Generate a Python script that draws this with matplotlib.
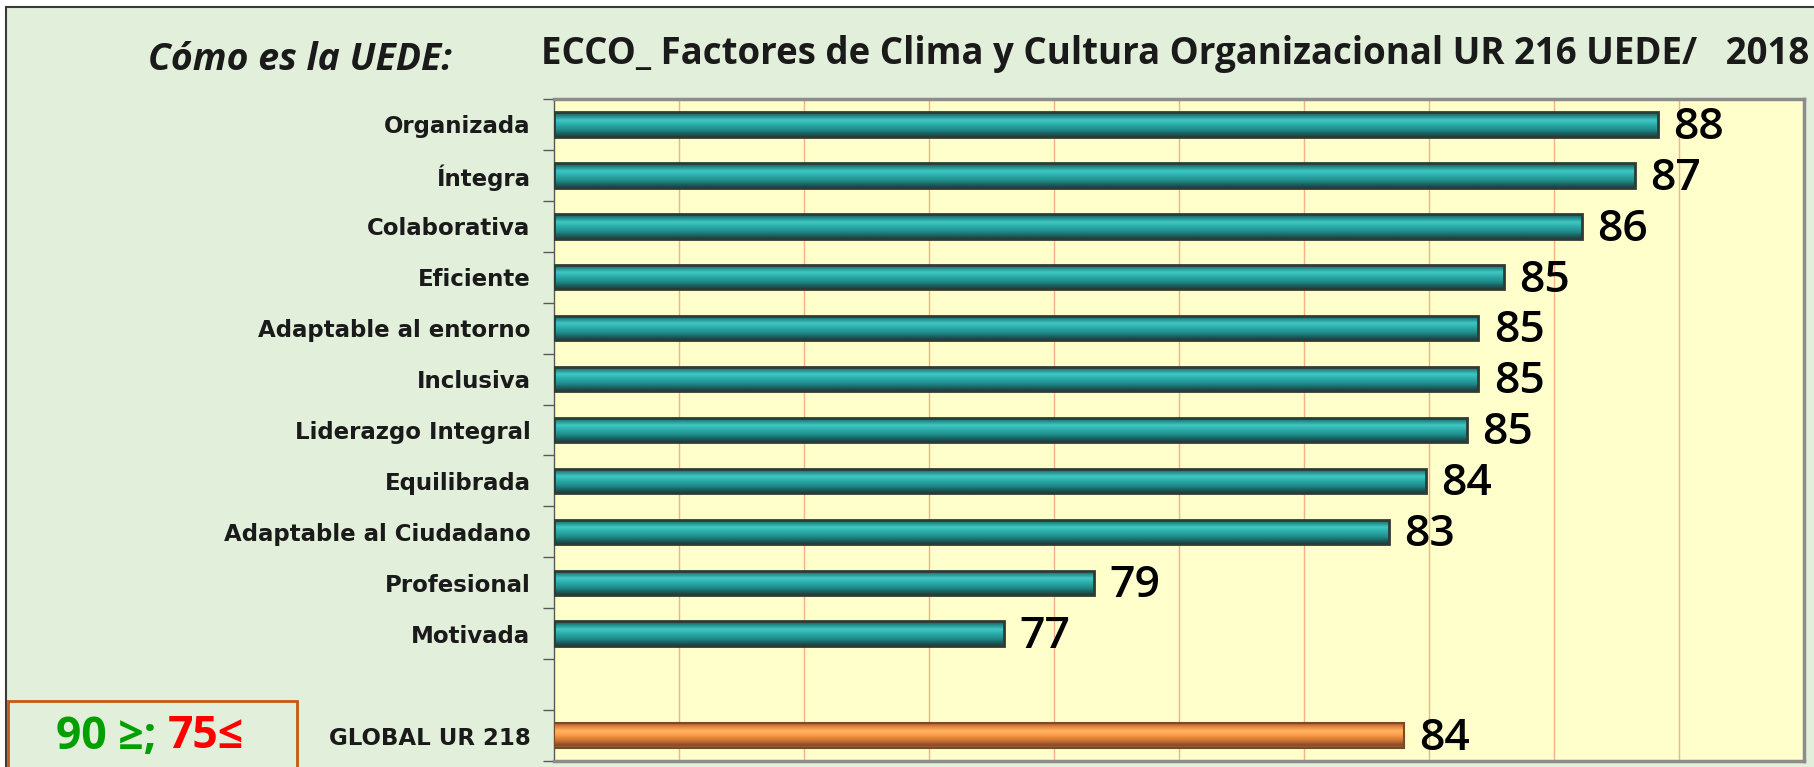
import numpy as np
import matplotlib
matplotlib.use("Agg")
import matplotlib.pyplot as plt
from matplotlib.colors import LinearSegmentedColormap
from matplotlib.patches import Rectangle
from matplotlib.lines import Line2D

# ---------------- data ----------------
categories = ["Organizada", "Íntegra", "Colaborativa", "Eficiente",
              "Adaptable al entorno", "Inclusiva", "Liderazgo Integral",
              "Equilibrada", "Adaptable al Ciudadano", "Profesional", "Motivada"]
values = [87.66, 87.30, 86.45, 85.20, 84.79, 84.79, 84.61, 83.95, 83.36, 78.64, 77.20]
global_label = "GLOBAL UR 218"
global_value = 83.60

title = "ECCO_ Factores de Clima y Cultura Organizacional UR 216 UEDE/   2018"
subtitle = "Cómo es la UEDE:"
legend_green = "90 ≥; "
legend_red = "75≤"

FONT = ["Open Sans", "DejaVu Sans"]
plt.rcParams["font.family"] = FONT

W, H = 1814, 767
XMIN, XMAX = 70, 90
fig = plt.figure(figsize=(W / 100, H / 100), dpi=100, facecolor="white")

# background panel with dark top/left border
fig.add_artist(Rectangle((6 / W, 0), 1 - 6 / W, 1 - 7 / H, transform=fig.transFigure,
                         facecolor="#E2EFDA", edgecolor="none", zorder=0))
fig.add_artist(Line2D([6 / W, 1], [1 - 7 / H, 1 - 7 / H], transform=fig.transFigure,
                      color="#3a3a3a", lw=1.5, zorder=1))
fig.add_artist(Line2D([6 / W, 6 / W], [0, 1 - 7 / H], transform=fig.transFigure,
                      color="#3a3a3a", lw=1.5, zorder=1))

ax = fig.add_axes([554 / W, 6 / H, 1250 / W, 662 / H])
ax.set_facecolor("#FFFFCC")

labels = categories + ["", global_label]
n = len(labels)
ypos = np.arange(n)
bar_h = 0.48

teal_cmap = LinearSegmentedColormap.from_list("teal", [
    (0.0, "#24504e"), (0.12, "#1f8080"), (0.32, "#40c8c4"),
    (0.48, "#2eb0ad"), (0.72, "#1e8a89"), (0.88, "#1b5d5c"), (1.0, "#1b3f3e")])
orange_cmap = LinearSegmentedColormap.from_list("orange", [
    (0.0, "#9a5f2e"), (0.15, "#ea8a3c"), (0.32, "#ffb468"),
    (0.48, "#ff9c48"), (0.72, "#c8702e"), (0.9, "#84492a"), (1.0, "#a07446")])

grad = np.linspace(0, 1, 64).reshape(-1, 1)

def gradient_bars(container, cmap):
    for patch in container.patches:
        x0, y0 = patch.get_x(), patch.get_y()
        w, h = patch.get_width(), patch.get_height()
        im = ax.imshow(grad, cmap=cmap, aspect="auto", origin="upper",
                       extent=(x0, x0 + w, y0 + h, y0), zorder=3,
                       interpolation="bilinear")
        im.set_clip_path(patch)

cat_vals = np.array(values)
bars = ax.barh(ypos[:len(categories)], cat_vals - XMIN, left=XMIN, height=bar_h,
               color="#1e8a89", edgecolor="#2f3b37", linewidth=2, zorder=3)
gradient_bars(bars, teal_cmap)
gbar = ax.barh([ypos[-1]], [global_value - XMIN], left=XMIN, height=bar_h,
               color="#e08030", edgecolor="#7a4a26", linewidth=1.5, zorder=3)
gradient_bars(gbar, orange_cmap)
for p in list(bars.patches) + list(gbar.patches):
    p.set_zorder(4)
    p.set_facecolor("none")

ax.set_xlim(XMIN, XMAX)
ax.set_ylim(n - 0.5, -0.5)

# value labels
for y, v in zip(ypos[:len(categories)], values):
    ax.annotate(f"{v:.0f}", (v, y), xytext=(11, -2), textcoords="offset points",
                ha="left", va="center", fontsize=32, fontweight="semibold",
                color="black", zorder=5)
ax.annotate(f"{global_value:.0f}", (global_value, ypos[-1]), xytext=(11, -2),
            textcoords="offset points", ha="left", va="center", fontsize=32,
            fontweight="semibold", color="black", zorder=5)

# grid
ax.set_xticks(np.arange(XMIN + 2, XMAX, 2))
ax.tick_params(axis="x", length=0, labelbottom=False)
ax.grid(axis="x", color="#F4B183", lw=1, zorder=1)
ax.set_axisbelow(True)

ax.set_yticks(ypos)
ax.set_yticklabels(labels, fontsize=16.5, fontweight="bold",
                   family=["DejaVu Sans"], color="#1a1a1a")
ax.tick_params(axis="y", which="major", length=0, pad=17)
ax.set_yticks(np.arange(-0.5, n, 1), minor=True)
ax.tick_params(axis="y", which="minor", length=8, color="#595959", width=1)

for s in ["top", "right", "bottom"]:
    ax.spines[s].set_color("#8c8c8c")
    ax.spines[s].set_linewidth(2.5)
ax.spines["left"].set_color("#595959")
ax.spines["left"].set_linewidth(1)

# titles
t_title = fig.text(541 / W, 1 - 54 / H, title, ha="left", va="center",
                   fontsize=22, fontweight="bold", color="#1a1a1a")
t_sub = fig.text(148 / W, 1 - 60 / H, subtitle, ha="left", va="center",
                 fontsize=22, fontweight="bold", style="italic", color="#1a1a1a")

# legend box
fig.add_artist(Rectangle((8 / W, -0.02), 289 / W, 0.02 + (767 - 701) / H,
                         transform=fig.transFigure, facecolor="#E2EFDA",
                         edgecolor="#C55A11", lw=2, zorder=2))
t1 = fig.text(56 / W, 1 - 737 / H, legend_green, ha="left", va="center",
              fontsize=32, fontweight="bold", color="#00A000", zorder=3)

fig.canvas.draw()
r = fig.canvas.get_renderer()

def fit(t, target_w):
    bb = t.get_window_extent(r)
    t.set_fontsize(t.get_fontsize() * target_w / bb.width)

fit(t_title, 1264)
fit(t_sub, 303)
fig.canvas.draw()
bb1 = t1.get_window_extent(r)
fig.text(bb1.x1 / W, 1 - 737 / H, legend_red, ha="left", va="center",
         fontsize=32, fontweight="bold", color="#FF0000", zorder=3)

fig.savefig("out.png", dpi=100, facecolor=fig.get_facecolor())
